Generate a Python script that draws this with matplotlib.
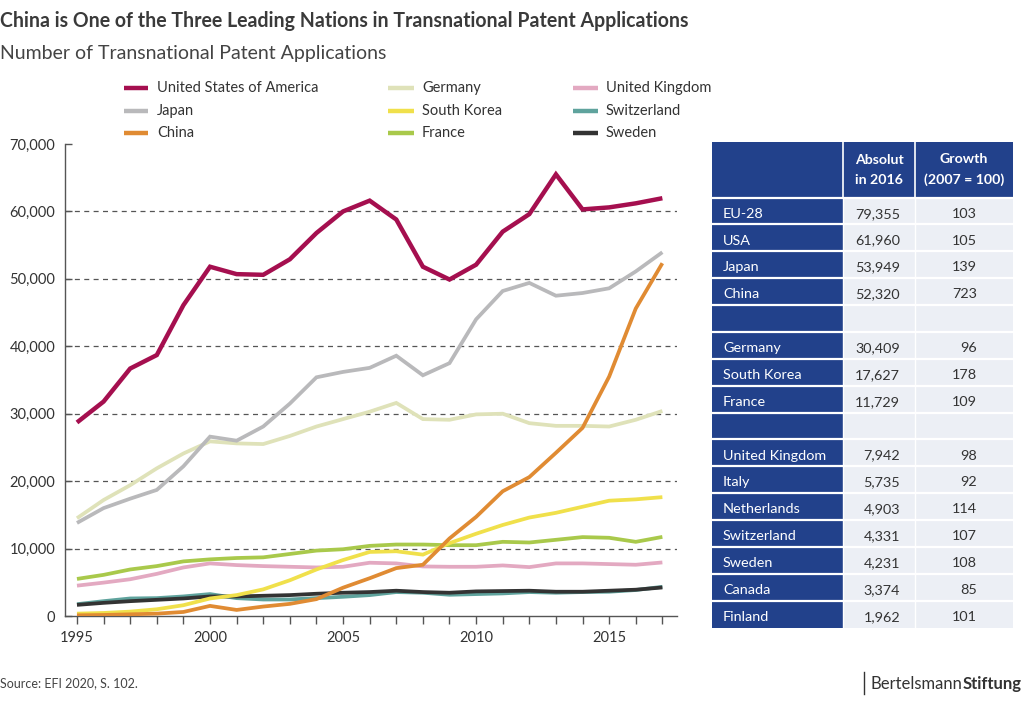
import matplotlib
matplotlib.use("Agg")
import matplotlib.pyplot as plt
from matplotlib.patches import Rectangle
from matplotlib.ticker import FuncFormatter, MultipleLocator

plt.rcParams['font.family'] = ['Lato', 'DejaVu Sans']

years = list(range(1995, 2018))

usa = [28700, 31800, 36700, 38700, 46100, 51800, 50700, 50600, 52900, 56800, 60000,
       61600, 58800, 51800, 49900, 52100, 57000, 59600, 65500, 60300, 60600, 61200, 61960]
japan = [13800, 16000, 17400, 18700, 22200, 26600, 26000, 28100, 31500, 35400, 36200,
         36800, 38600, 35700, 37500, 44000, 48200, 49400, 47500, 47900, 48600, 51100, 53949]
china = [100, 150, 250, 350, 600, 1500, 900, 1400, 1800, 2500, 4200,
         5600, 7100, 7600, 11500, 14700, 18500, 20600, 24200, 27900, 35500, 45600, 52320]
germany = [14500, 17200, 19400, 21900, 24100, 25900, 25600, 25500, 26700, 28100, 29200,
           30300, 31600, 29200, 29100, 29900, 30000, 28600, 28200, 28200, 28100, 29100, 30409]
skorea = [350, 450, 650, 1000, 1600, 2600, 3100, 3950, 5300, 6900, 8300,
          9500, 9600, 9100, 10800, 12200, 13500, 14600, 15300, 16200, 17100, 17300, 17627]
france = [5500, 6100, 6900, 7400, 8100, 8400, 8600, 8700, 9200, 9700, 9900,
          10400, 10600, 10600, 10500, 10500, 11000, 10900, 11300, 11700, 11600, 11000, 11729]
uk = [4500, 4950, 5450, 6250, 7200, 7800, 7550, 7400, 7300, 7200, 7300,
      7900, 7800, 7350, 7300, 7300, 7500, 7250, 7800, 7800, 7700, 7600, 7942]
switzerland = [1750, 2200, 2600, 2650, 2900, 3250, 2650, 2450, 2450, 2650, 2850,
               3100, 3550, 3450, 3150, 3250, 3350, 3550, 3450, 3550, 3600, 3850, 4331]
sweden = [1650, 1950, 2200, 2400, 2600, 2900, 2900, 3000, 3100, 3300, 3450,
          3550, 3750, 3550, 3450, 3650, 3700, 3750, 3600, 3600, 3750, 3900, 4231]

series = [
    ("United States of America", usa, "#a50f4f", 3.2),
    ("Japan", japan, "#b9b9bb", 2.7),
    ("China", china, "#e08b33", 2.7),
    ("Germany", germany, "#dfe2b9", 2.7),
    ("South Korea", skorea, "#f0e04b", 2.7),
    ("France", france, "#a9c94b", 2.7),
    ("United Kingdom", uk, "#e3a9c1", 2.7),
    ("Switzerland", switzerland, "#5fa39d", 2.7),
    ("Sweden", sweden, "#333333", 2.7),
]
draw_order = ["Germany", "United Kingdom", "France", "Switzerland", "Sweden",
              "South Korea", "Japan", "China", "United States of America"]

table_rows = ["EU-28", "USA", "Japan", "China", "",
              "Germany", "South Korea", "France", "",
              "United Kingdom", "Italy", "Netherlands", "Switzerland", "Sweden",
              "Canada", "Finland"]
table_abs = ["79,355", "61,960", "53,949", "52,320", "",
             "30,409", "17,627", "11,729", "",
             "7,942", "5,735", "4,903", "4,331", "4,231", "3,374", "1,962"]
table_growth = ["103", "105", "139", "723", "",
                "96", "178", "109", "",
                "98", "92", "114", "107", "108", "85", "101"]
table_head = ["", "Absolut\nin 2016", "Growth\n(2007 = 100)"]

W, H = 1024, 704
fig = plt.figure(figsize=(W / 100, H / 100), dpi=100)

ax = fig.add_axes([65 / W, 1 - 616 / H, (677 - 65) / W, (616 - 144) / H])
colors = {}
for name, vals, col, lw in series:
    z = 3 + draw_order.index(name)
    ax.plot(years, vals, color=col, lw=lw, zorder=z, solid_capstyle='butt',
            solid_joinstyle='miter', label=name)
    colors[name] = col

ax.set_xlim(1994.55, 2017.55)
ax.set_ylim(0, 70000)
ax.yaxis.set_major_locator(MultipleLocator(10000))
ax.yaxis.set_major_formatter(FuncFormatter(lambda v, p: f"{int(v):,}"))
ax.xaxis.set_major_locator(MultipleLocator(5))
ax.xaxis.set_minor_locator(MultipleLocator(1))
for yv in range(10000, 70000, 10000):
    ax.axhline(yv, color="#555555", lw=0.9, ls=(0, (4, 3.5)), zorder=1)
for s in ["top", "right"]:
    ax.spines[s].set_visible(False)
for s in ["left", "bottom"]:
    ax.spines[s].set_color("#555555")
    ax.spines[s].set_linewidth(1.0)
ax.tick_params(axis='y', direction='in', length=5, width=1, color="#555555",
               labelsize=10.5, labelcolor="#333333", pad=7)
ax.tick_params(axis='x', which='both', direction='out', length=6, width=1,
               color="#555555", labelsize=10.5, labelcolor="#333333", pad=5)
ax.set_facecolor("white")

# Titles
fig.text(0 / W, 1 - 21 / H, "China is One of the Three Leading Nations in Transnational Patent Applications",
         fontsize=14.05, fontweight="bold", color="#3a3a3a", va="center", ha="left")
fig.text(0 / W, 1 - 53 / H, "Number of Transnational Patent Applications",
         fontsize=14, color="#444444", va="center", ha="left")

# Footer
fig.text(0 / W, 1 - 683 / H, "Source: EFI 2020, S. 102.", fontsize=9, color="#444444",
         va="center", ha="left")

# Overlay axes in pixel coordinates for legend, table and logo
ov = fig.add_axes([0, 0, 1, 1], zorder=10)
ov.set_xlim(0, W)
ov.set_ylim(H, 0)
ov.axis("off")
ov.patch.set_alpha(0)

# Legend (3 columns)
leg_order = ["United States of America", "Japan", "China",
             "Germany", "South Korea", "France",
             "United Kingdom", "Switzerland", "Sweden"]
col_handle = [(124, 148), (388, 414), (573, 598)]
col_text = [157, 422, 606]
row_y = [88, 111, 133]
for i, name in enumerate(leg_order):
    c, r = divmod(i, 3)
    hx0, hx1 = col_handle[c]
    ov.plot([hx0, hx1], [row_y[r], row_y[r]], color=colors[name], lw=3.2,
            solid_capstyle='butt')
    ov.text(col_text[c], row_y[r], name, fontsize=10.5, color="#333333",
            ha="left", va="center")

dark = "#22418b"
light = "#eceff5"
x0, x1, x2, x3 = 712, 843, 915, 1013
hy0, hy1 = 142, 197.5
rh = (627.5 - 197.5) / len(table_rows)
# header
ov.add_patch(Rectangle((x0, hy0), x3 - x0, hy1 - hy0, facecolor=dark, edgecolor="none"))
ov.plot([x1, x1], [hy0, hy1], color="white", lw=1.2)
ov.plot([x2, x2], [hy0, hy1], color="white", lw=1.2)
ov.text((x1 + x2) / 2, (hy0 + hy1) / 2, table_head[1], color="white", fontsize=10.2,
        fontweight="bold", ha="center", va="center", linespacing=1.75)
ov.text((x2 + x3) / 2, (hy0 + hy1) / 2, table_head[2], color="white", fontsize=10.2,
        fontweight="bold", ha="center", va="center", linespacing=1.75)
for i, (lab, a, g) in enumerate(zip(table_rows, table_abs, table_growth)):
    y = hy1 + i * rh
    ov.add_patch(Rectangle((x0, y), x1 - x0, rh, facecolor=dark, edgecolor="none"))
    ov.add_patch(Rectangle((x1, y), x3 - x1, rh, facecolor=light, edgecolor="none"))
    ov.plot([x0, x3], [y, y], color="white", lw=1.6)
    yc = y + rh / 2 + 2.8
    ov.text(x0 + 11, yc, lab, color="white", fontsize=10.4, ha="left", va="center")
    ov.text(900, yc, a, color="#333333", fontsize=10.4, ha="right", va="center")
    ov.text(977, yc, g, color="#333333", fontsize=10.4, ha="right", va="center")
ov.plot([x1, x1], [hy1, 627.5], color="white", lw=1.0)
ov.plot([x2, x2], [hy1, 627.5], color="white", lw=1.0)

# Logo
ov.plot([864, 864], [672, 694], color="#333333", lw=1.0)
t1 = ov.text(871, 684, "Bertelsmann", fontsize=12, color="#333333", ha="left", va="center")
fig.canvas.draw()
bb = t1.get_window_extent()
inv = ov.transData.inverted()
xe = inv.transform((bb.x1, bb.y0))[0]
ov.text(xe, 684, "Stiftung", fontsize=12, color="#333333", fontweight="bold",
        ha="left", va="center")

fig.savefig("out.png", dpi=100, facecolor="white")
